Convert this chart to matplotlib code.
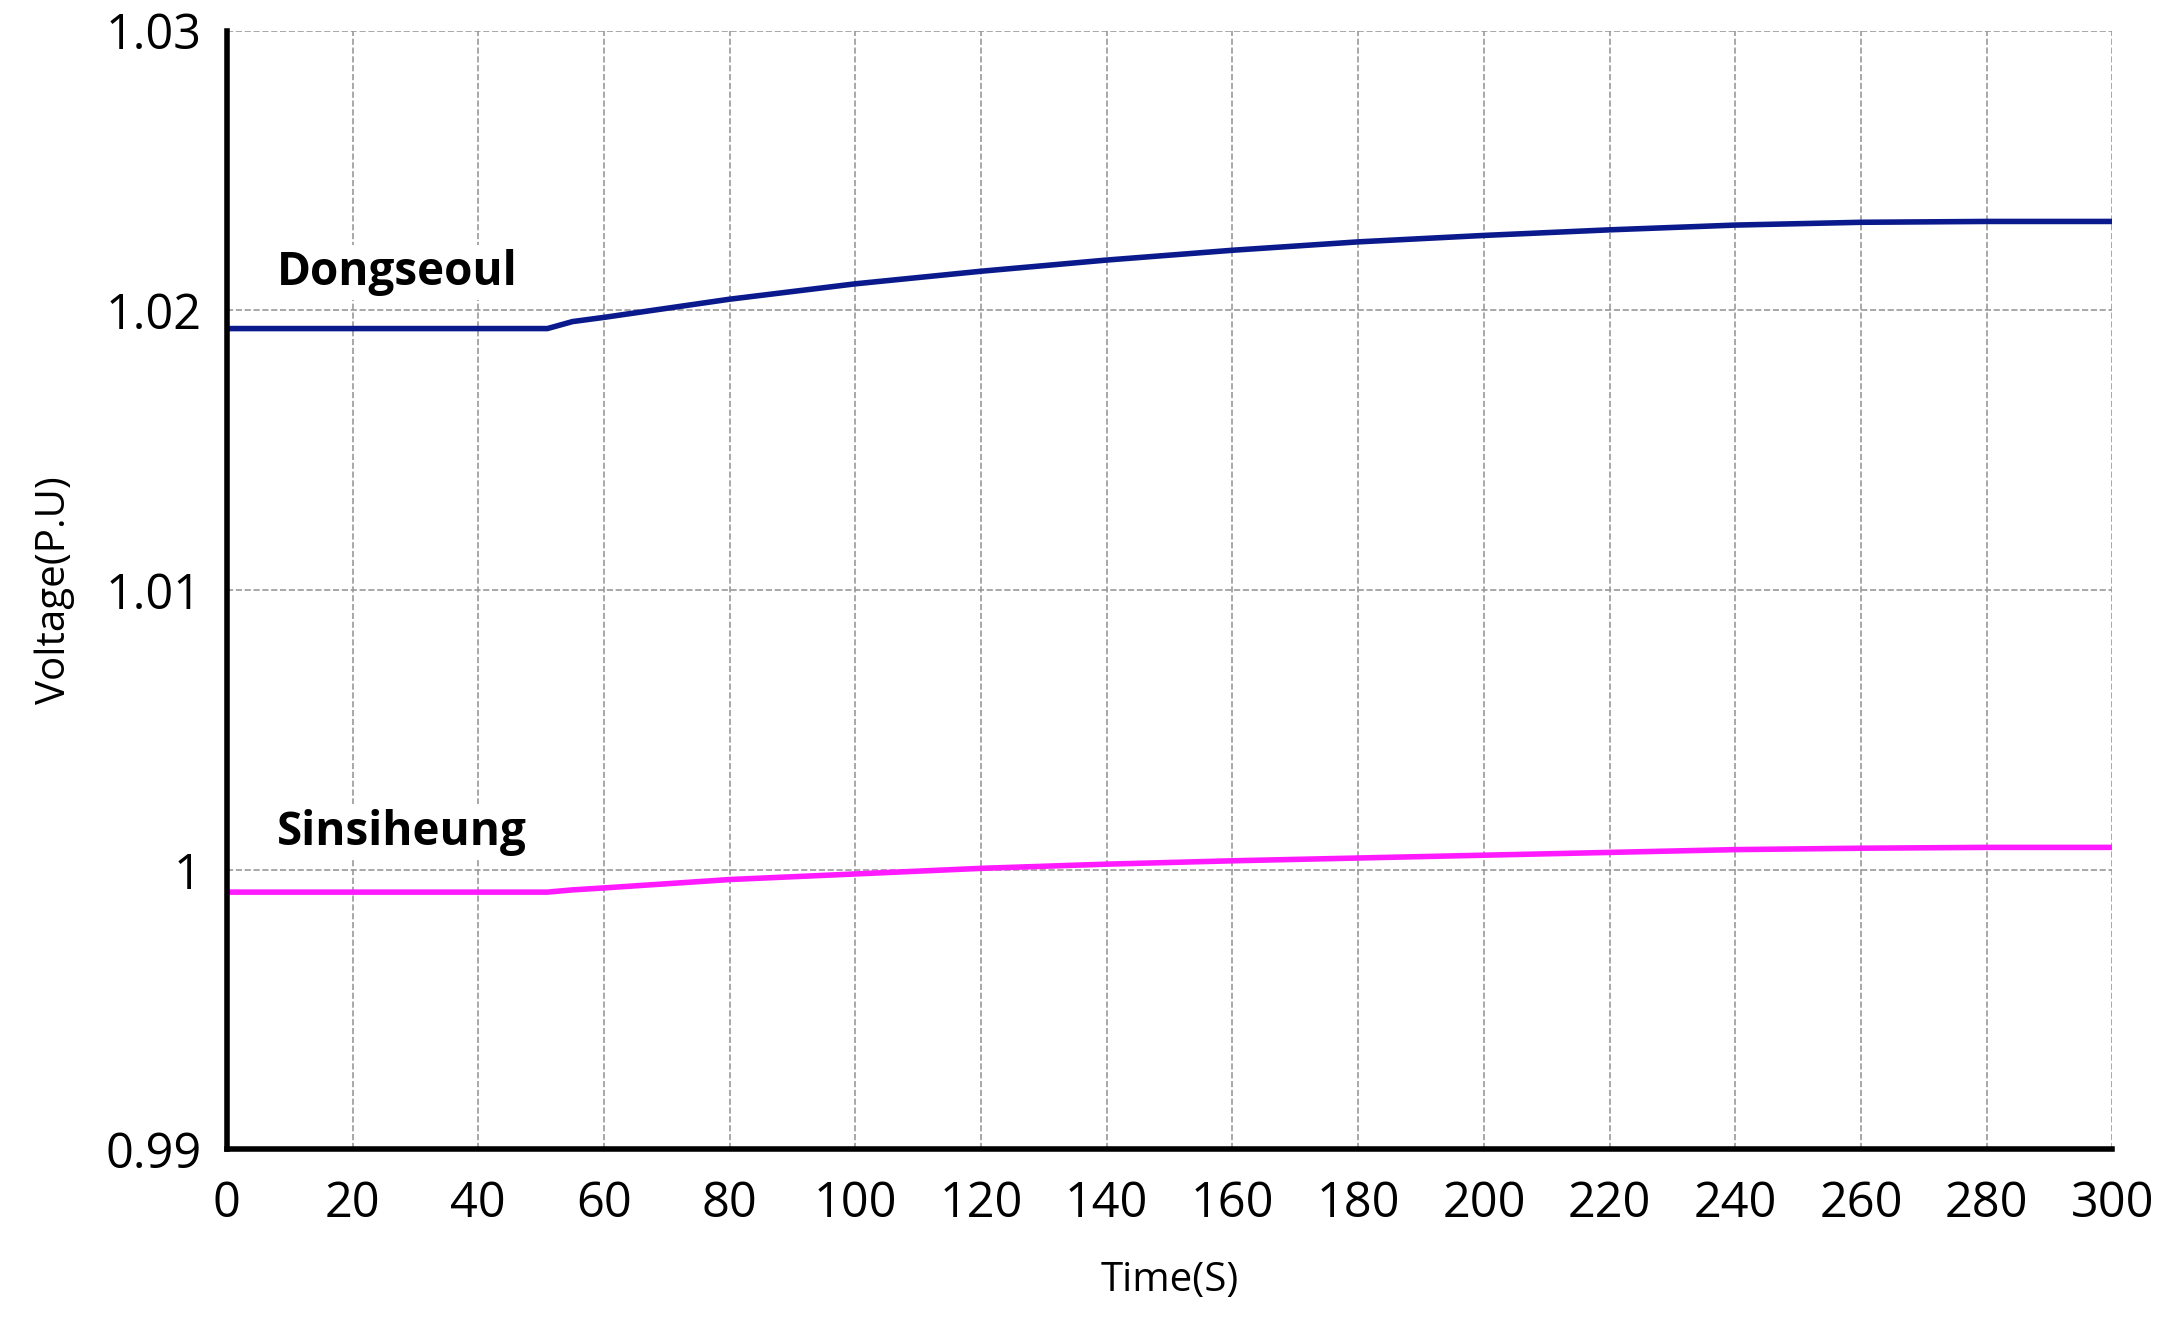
import matplotlib.pyplot as plt

time = [0, 51, 55, 60, 80, 100, 120, 140, 160, 180, 200, 220, 240, 260, 280, 300]
dongseoul = [1.01935, 1.01935, 1.01960, 1.01975, 1.02040, 1.02095, 1.02140, 1.02180, 1.02215,
             1.02245, 1.02268, 1.02288, 1.02305, 1.02315, 1.02318, 1.02318]
sinsiheung = [0.99920, 0.99920, 0.99928, 0.99935, 0.99965, 0.99985, 1.00005, 1.00020, 1.00032,
              1.00042, 1.00052, 1.00062, 1.00072, 1.00077, 1.00080, 1.00080]

plt.rcParams['font.family'] = ['Open Sans', 'DejaVu Sans']
fig = plt.figure(figsize=(21.71, 13.35), dpi=100)
ax = fig.add_axes([0.1045, 0.139, 0.8685, 0.838])

ax.plot(time, dongseoul, color="#0a1a8c", linewidth=4)
ax.plot(time, sinsiheung, color="#ff1aff", linewidth=4)

ax.set_xlim(0, 300)
ax.set_ylim(0.99, 1.03)
ax.set_xticks(range(0, 301, 20))
ax.set_yticks([0.99, 1.0, 1.01, 1.02, 1.03])
ax.set_yticklabels(["0.99", "1", "1.01", "1.02", "1.03"])
ax.tick_params(axis="x", length=0, labelsize=35, pad=22)
ax.tick_params(axis="y", length=0, labelsize=35, pad=18)
ax.grid(True, linestyle="--", color="#999999", linewidth=1.2)

for s in ["top", "right"]:
    ax.spines[s].set_visible(False)
for s in ["left", "bottom"]:
    ax.spines[s].set_linewidth(4)
    ax.spines[s].set_color("black")

ax.set_xlabel("Time(S)", fontsize=29, labelpad=22)
ax.set_ylabel("Voltage(P.U)", fontsize=29, labelpad=22)

ax.text(8, 1.0209, "Dongseoul", fontsize=33, fontweight="bold",
        bbox=dict(facecolor="white", edgecolor="none", pad=3))
ax.text(8, 1.0009, "Sinsiheung", fontsize=33, fontweight="bold",
        bbox=dict(facecolor="white", edgecolor="none", pad=3))

plt.savefig("out.png", dpi=100)
